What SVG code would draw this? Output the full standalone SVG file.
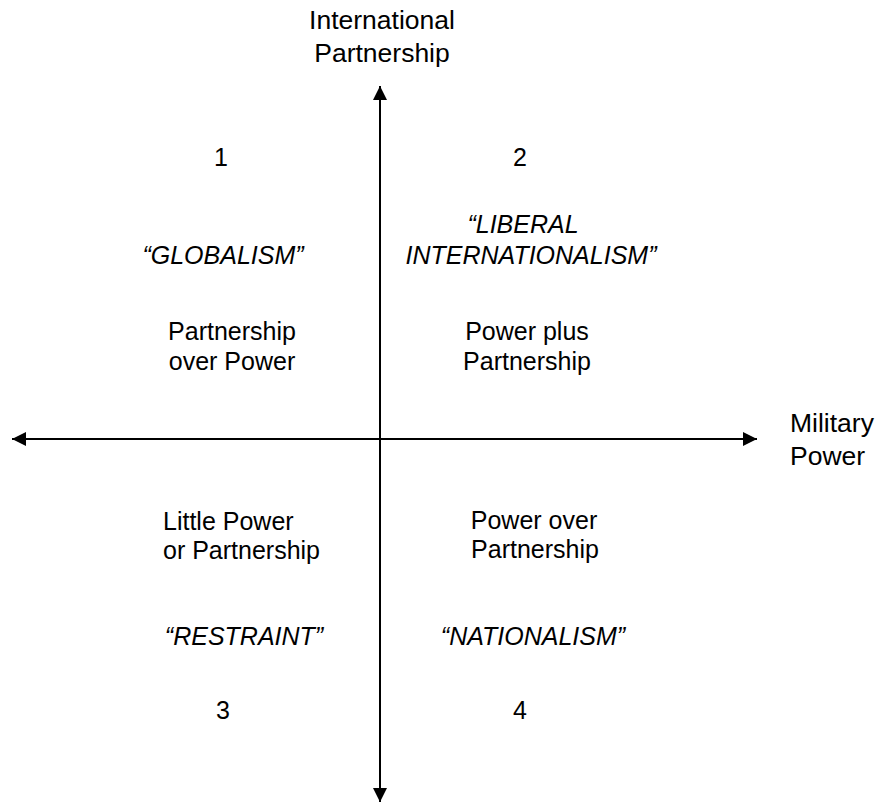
<svg xmlns="http://www.w3.org/2000/svg" width="879" height="802" viewBox="0 0 879 802">
<style>
text{font-family:"Liberation Sans",Arial,Helvetica,sans-serif;font-size:25px;fill:#000}
.ax{font-size:26.5px}
.c{text-anchor:middle}
.i{font-style:italic}
.axis{stroke:#000;stroke-width:2;fill:none}
</style>
<defs>
<marker id="ah" viewBox="0 0 14 14" refX="14" refY="7" markerWidth="14" markerHeight="14" markerUnits="userSpaceOnUse" orient="auto">
<path d="M0,0 L14,7 L0,14 Z" fill="#000"/>
</marker>
</defs>
<rect width="879" height="802" fill="#fff"/>
<g id="connectors">
<line class="axis" x1="380" y1="439" x2="380" y2="86" marker-end="url(#ah)"/>
<line class="axis" x1="380" y1="439" x2="380" y2="802" marker-end="url(#ah)"/>
<line class="axis" x1="380" y1="439" x2="12" y2="439" marker-end="url(#ah)"/>
<line class="axis" x1="380" y1="439" x2="757" y2="439" marker-end="url(#ah)"/>
</g>
<g id="y-axis-label">
<text class="c ax" x="382" y="29">International</text>
<text class="c ax" x="382" y="62">Partnership</text>
</g>
<g id="x-axis-label">
<text class="ax" x="790" y="432">Military</text>
<text class="ax" x="790" y="465">Power</text>
</g>
<g id="q1">
<text class="c" x="221" y="166">1</text>
<text class="c i" x="223" y="264">“GLOBALISM”</text>
<text class="c" x="232" y="340">Partnership</text>
<text class="c" x="232" y="370">over Power</text>
</g>
<g id="q2">
<text class="c" x="520" y="166">2</text>
<text class="c i" x="523" y="233">“LIBERAL</text>
<text class="c i" x="531" y="264">INTERNATIONALISM”</text>
<text class="c" x="527" y="340">Power plus</text>
<text class="c" x="527" y="370">Partnership</text>
</g>
<g id="q3">
<text x="163" y="530">Little Power</text>
<text x="163" y="559">or Partnership</text>
<text class="c i" x="244" y="645">“RESTRAINT”</text>
<text class="c" x="223" y="719">3</text>
</g>
<g id="q4">
<text class="c" x="534" y="529">Power over</text>
<text class="c" x="535" y="558">Partnership</text>
<text class="c i" x="533" y="645">“NATIONALISM”</text>
<text class="c" x="520" y="719">4</text>
</g>
</svg>
